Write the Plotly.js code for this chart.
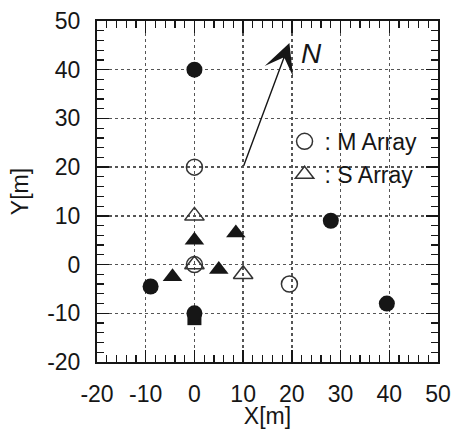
<!DOCTYPE html>
<html>
<head>
<meta charset="utf-8">
<script src="https://cdn.plot.ly/plotly-3.0.1.min.js"></script>
<style>html,body{margin:0;padding:0;background:#fff;}#chart{width:452px;height:429px;}</style>
</head>
<body>
<div id="chart"></div>
<script>
// Filled circles
const filledCircleX = [0, 28, -9, 39.5, 0];
const filledCircleY = [40, 9, -4.5, -8, -10];
// Filled square (overlapping the circle at the bottom)
const filledSquareX = [0];
const filledSquareY = [-11];
// Filled triangles
const filledTriX = [0, 8.5, 5, -4.5];
const filledTriY = [5, 6.5, -1, -2.5];
// M Array (open circles)
const mArrayX = [0, 0, 19.5];
const mArrayY = [20, 0, -4];
// S Array (open triangles)
const sArrayX = [0, 0, 10];
const sArrayY = [10, 0, -2];
// North arrow: tail -> head
const arrowTail = [10, 20];
const arrowHead = [19.5, 45.5];
const northLabel = {x: 24, y: 43.3, text: 'N'};
// Axes
const xRange = [-20, 50];
const yRange = [-20, 50];
const xTicks = [-20, -10, 0, 10, 20, 30, 40, 50];
const yTicks = [-20, -10, 0, 10, 20, 30, 40, 50];

const ink = '#161616';
const font = 'Liberation Sans, Arial, Helvetica, sans-serif';

const traces = [
  {x: filledSquareX, y: filledSquareY, type: 'scatter', mode: 'markers', showlegend: false,
   marker: {symbol: 'square', size: 14, color: ink}},
  {x: filledCircleX, y: filledCircleY, type: 'scatter', mode: 'markers', showlegend: false,
   marker: {symbol: 'circle', size: 16, color: ink}},
  {x: filledTriX, y: filledTriY, type: 'scatter', mode: 'markers', showlegend: false,
   marker: {symbol: 'triangle-up', size: 17, color: ink}},
  {x: mArrayX, y: mArrayY, type: 'scatter', mode: 'markers', name: ':\u00a0M Array', legendgroup: 'm',
   marker: {symbol: 'circle-open', size: 16, color: '#333', line: {width: 1.5, color: '#333'}}},
  {x: sArrayX, y: sArrayY, type: 'scatter', mode: 'markers', name: ':\u00a0S Array', legendgroup: 's',
   marker: {symbol: 'triangle-up-open', size: 17, color: '#333', line: {width: 1.5, color: '#333'}}}
];

const axisCommon = {
  showline: true, linecolor: ink, linewidth: 2, mirror: 'allticks',
  ticks: 'inside', ticklen: 12, tickwidth: 1.5, tickcolor: ink,
  minor: {ticks: 'inside', ticklen: 7, tickwidth: 1.2, tickcolor: ink, dtick: 2, showgrid: false},
  showgrid: true, gridcolor: '#555', gridwidth: 1.5, griddash: 'dot',
  zeroline: false, tickfont: {family: font, size: 23, color: ink}, fixedrange: true
};

const layout = {
  width: 452, height: 429,
  margin: {l: 97, r: 14, t: 21, b: 67},
  paper_bgcolor: '#fff', plot_bgcolor: '#fff',
  xaxis: Object.assign({}, axisCommon, {
    range: xRange, tickvals: xTicks, ticktext: xTicks.map(String), ticklabelstandoff: 10,
    title: {text: 'X[m]', font: {family: font, size: 23, color: ink}, standoff: 0}
  }),
  yaxis: Object.assign({}, axisCommon, {
    range: yRange, tickvals: yTicks, ticktext: yTicks.map(String), ticklabelstandoff: 10,
    title: {text: 'Y[m]', font: {family: font, size: 23, color: ink}, standoff: 12}
  }),
  showlegend: true,
  legend: {x: 0.55, y: 0.71, xanchor: 'left', yanchor: 'top', bgcolor: 'rgba(0,0,0,0)',
    font: {family: font, size: 23, color: ink}, tracegroupgap: 0, itemclick: false},
  annotations: [
    {x: arrowHead[0], y: arrowHead[1], ax: arrowTail[0], ay: arrowTail[1], xref: 'x', yref: 'y',
     axref: 'x', ayref: 'y', text: '', showarrow: true, arrowhead: 3, arrowsize: 3.6,
     arrowwidth: 1.4, arrowcolor: ink},
    {x: northLabel.x, y: northLabel.y, xref: 'x', yref: 'y', text: '<i>' + northLabel.text + '</i>',
     showarrow: false, font: {family: font, size: 28, color: ink}}
  ]
};

Plotly.newPlot('chart', traces, layout, {staticPlot: true, displayModeBar: false});
</script>
</body>
</html>
